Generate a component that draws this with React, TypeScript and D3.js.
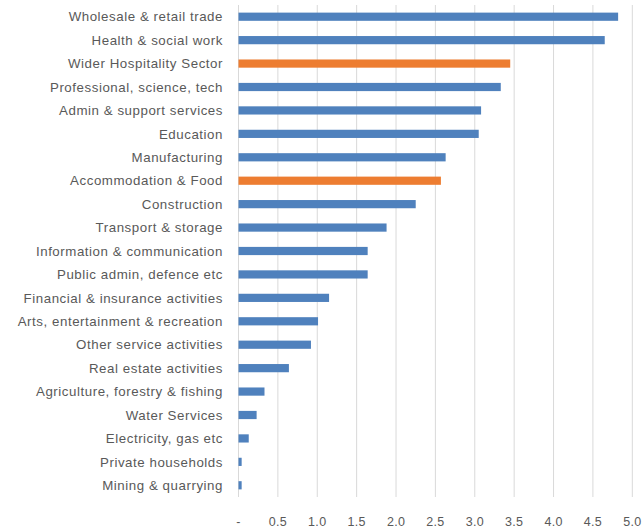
import React from "react";
import * as d3 from "d3";

const categories = [
  "Wholesale & retail trade",
  "Health & social work",
  "Wider Hospitality Sector",
  "Professional, science, tech",
  "Admin & support services",
  "Education",
  "Manufacturing",
  "Accommodation & Food",
  "Construction",
  "Transport & storage",
  "Information & communication",
  "Public admin, defence etc",
  "Financial & insurance activities",
  "Arts, entertainment & recreation",
  "Other service activities",
  "Real estate activities",
  "Agriculture, forestry & fishing",
  "Water Services",
  "Electricity, gas etc",
  "Private households",
  "Mining & quarrying",
];
const values = [4.82, 4.65, 3.45, 3.33, 3.08, 3.05, 2.63, 2.57, 2.25, 1.88, 1.64, 1.64, 1.15, 1.01, 0.92, 0.64, 0.33, 0.23, 0.13, 0.04, 0.04];
const highlighted = ["Wider Hospitality Sector", "Accommodation & Food"];
const ticks = [0, 0.5, 1, 1.5, 2, 2.5, 3, 3.5, 4, 4.5, 5];
const tickLabels = ["-", "0.5", "1.0", "1.5", "2.0", "2.5", "3.0", "3.5", "4.0", "4.5", "5.0"];

export default function App() {
  const W = 643, H = 531;
  const left = 238.5, right = 632.3, top = 5, bottom = 497;
  const x = d3.scaleLinear().domain([0, 5]).range([left, right]);
  const y = d3.scaleBand().domain(categories).range([top, bottom]).paddingInner(0.65).paddingOuter(0.325);
  const font = "'Liberation Sans', Arial, sans-serif";
  return (
    <svg width={W} height={H} style={{ position: "absolute", left: 0, top: 0, background: "#fff" }}>
      {ticks.map((t, i) => (
        <g key={i}>
          <line x1={x(t)} x2={x(t)} y1={top} y2={bottom} stroke="#d9d9d9" strokeWidth={1} />
          <text x={x(t)} y={526} textAnchor="middle" fontFamily={font} fontSize={12.5} letterSpacing={0.3} fill="#595959">
            {tickLabels[i]}
          </text>
        </g>
      ))}
      {categories.map((c, i) => (
        <g key={c}>
          <rect
            x={x(0)}
            y={y(c)!}
            width={x(values[i]) - x(0)}
            height={y.bandwidth()}
            fill={highlighted.includes(c) ? "#ED7D31" : "#4F81BD"}
          />
          <text
            x={223}
            y={y(c)! + y.bandwidth() / 2}
            dy="0.35em"
            textAnchor="end"
            fontFamily={font}
            fontSize={13.3}
            letterSpacing={0.55}
            fill="#595959"
          >
            {c}
          </text>
        </g>
      ))}
    </svg>
  );
}
